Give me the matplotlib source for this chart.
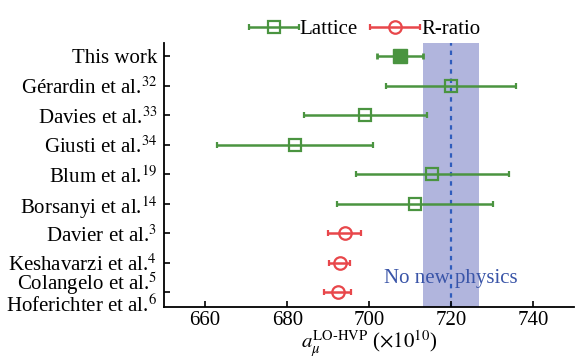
import numpy as np
import matplotlib
matplotlib.use("Agg")
import matplotlib.pyplot as plt
from matplotlib.container import ErrorbarContainer
from matplotlib.legend_handler import HandlerErrorbar

plt.rcParams['font.family'] = ['Liberation Serif', 'DejaVu Serif']
plt.rcParams['mathtext.fontset'] = 'stix'

# results, top to bottom
labels = ["This work", "Gérardin et al.$^{32}$", "Davies et al.$^{33}$",
          "Giusti et al.$^{34}$", "Blum et al.$^{19}$", "Borsanyi et al.$^{14}$",
          "Davier et al.$^{3}$", "Keshavarzi et al.$^{4}$",
          "Colangelo et al.$^{5}$\nHoferichter et al.$^{6}$"]
lat_vals = [707.5, 720.0, 699.0, 682.0, 715.4, 711.1]
lat_errs = [5.5, 15.9, 15.0, 19.0, 18.7, 19.0]
rr_vals = [694.0, 692.8, 692.3]
rr_errs = [4.0, 2.5, 3.3]
band_center = 719.9
band_half = 6.9

green = '#4a9440'
red = '#e8474b'

fig = plt.figure(figsize=(5.76, 3.56), dpi=100)
ax = fig.add_axes([0.285, 0.138, 0.712, 0.741])

ax.axvspan(band_center - band_half, band_center + band_half,
           color='#b1b5dd', lw=0, zorder=0)
ax.axvline(720, color='#2f5cbc', ls=(0, (2, 2.2)), lw=1.6, zorder=1)
ax.text(703.6, 7.55, "No new physics", color='#3a55a8', fontsize=15,
        va='center', ha='left', zorder=2)

ypos = np.arange(len(labels))
ylat = ypos[:len(lat_vals)]
yrr = ypos[len(lat_vals):]

ax.errorbar(lat_vals[0], ylat[0], xerr=lat_errs[0], fmt='s', color=green,
            ms=9.5, mfc=green, mec=green, lw=1.8, capsize=2.5, capthick=2,
            zorder=3)
ax.errorbar(lat_vals[1:], ylat[1:], xerr=lat_errs[1:], fmt='s', color=green,
            ms=8.5, mfc='none', mec=green, mew=1.6, lw=1.8, capsize=2.5,
            capthick=2, zorder=3, label='Lattice')
ax.errorbar(rr_vals, yrr, xerr=rr_errs, fmt='o', color=red,
            ms=9, mfc='none', mec=red, mew=1.6, lw=1.8, capsize=2.5,
            capthick=2, zorder=3, label='R-ratio')

ax.set_xlim(650, 750)
ax.set_ylim(8.5, -0.45)
ax.set_xticks([660, 680, 700, 720, 740])
ax.set_yticks(ypos)
ax.set_yticklabels(labels)
ax.get_yticklabels()[-1].set_linespacing(0.88)
ax.tick_params(axis='both', direction='in', labelsize=15, length=4, width=1.2)
ax.tick_params(axis='y', pad=5)
ax.tick_params(axis='x', pad=3)
for s in ['top', 'right']:
    ax.spines[s].set_visible(False)
for s in ['left', 'bottom']:
    ax.spines[s].set_linewidth(1.3)

ax.set_xlabel(r"$a_\mu^{\mathrm{LO\text{-}HVP}}$ ($\times10^{10}$)", fontsize=15,
              labelpad=-1)

ax.legend(loc='center', bbox_to_anchor=(0.633, 0.918),
          bbox_transform=fig.transFigure, ncol=2, frameon=False, fontsize=15,
          handlelength=2.4, handletextpad=0.05, columnspacing=0.6,
          handler_map={ErrorbarContainer: HandlerErrorbar(xerr_size=1.2)})

fig.savefig("out.png", dpi=100)
